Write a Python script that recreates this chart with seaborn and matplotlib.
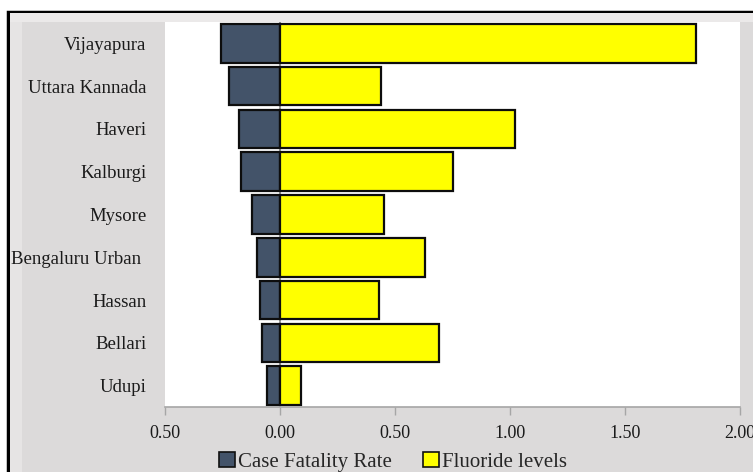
import matplotlib
matplotlib.use("Agg")
import matplotlib.pyplot as plt
import matplotlib.patches as mpatches
from matplotlib.ticker import FuncFormatter
import seaborn as sns
import pandas as pd

districts = ["Vijayapura", "Uttara Kannada", "Haveri", "Kalburgi", "Mysore",
             "Bengaluru Urban ", "Hassan", "Bellari", "Udupi"]
case_fatality_rate = [0.257, 0.22, 0.18, 0.17, 0.12, 0.10, 0.087, 0.078, 0.057]
fluoride_levels = [1.81, 0.44, 1.02, 0.75, 0.45, 0.63, 0.43, 0.69, 0.09]
x_ticks = [-0.5, 0.0, 0.5, 1.0, 1.5, 2.0]

df = pd.DataFrame({
    "district": districts,
    "cfr": [-v for v in case_fatality_rate],
    "fluoride": fluoride_levels,
})

sns.set_style("white")
plt.rcParams["font.family"] = ["Liberation Serif", "DejaVu Serif"]

W, H = 753, 472
fig = plt.figure(figsize=(W / 100, H / 100), dpi=100, facecolor="white")

# grey chart panel with black frame
panel_color = "#dcdada"
fig.patches.append(mpatches.Rectangle((8 / W, -0.05), 1.05, 1 - 12 / H + 0.05,
                                      transform=fig.transFigure, facecolor=panel_color,
                                      edgecolor="black", linewidth=2.5, zorder=-10))
# soft bevel highlights along the frame
fig.patches.append(mpatches.Rectangle((10 / W, 1 - 22 / H), 1.0, 9 / H,
                                      transform=fig.transFigure, facecolor="#ebe9e9",
                                      edgecolor="none", zorder=-9))
fig.patches.append(mpatches.Rectangle((10 / W, 0), 12 / W, 1 - 22 / H,
                                      transform=fig.transFigure, facecolor="#e6e4e4",
                                      edgecolor="none", zorder=-9))

ax = fig.add_axes([165 / W, 1 - 407 / H, (740 - 165) / W, (407 - 22) / H])
ax.set_facecolor("white")

sns.barplot(data=df, x="cfr", y="district", orient="h", color="#435369",
            edgecolor="#0d0d0d", linewidth=1.6, width=0.9, ax=ax, saturation=1)
sns.barplot(data=df, x="fluoride", y="district", orient="h", color="#ffff00",
            edgecolor="#0d0d0d", linewidth=1.6, width=0.9, ax=ax, saturation=1)

ax.axvline(0, color="#8c8c8c", linewidth=1.2, zorder=0.8)
ax.set_xlim(-0.5, 2.0)
ax.set_ylim(8.5, -0.5)
ax.set_xticks(x_ticks)
ax.xaxis.set_major_formatter(FuncFormatter(lambda v, p: f"{abs(v):.2f}"))
ax.set_xlabel("")
ax.set_ylabel("")

for s in ["top", "right", "left"]:
    ax.spines[s].set_visible(False)
ax.spines["bottom"].set_color("#a6a6a6")
ax.spines["bottom"].set_linewidth(1.2)
ax.tick_params(axis="x", bottom=True, length=6, width=1, color="#a6a6a6",
               labelsize=13, pad=7, labelcolor="#1a1a1a")
ax.tick_params(axis="y", left=False, labelsize=13.5, pad=10, labelcolor="#1a1a1a")

handles = [
    mpatches.Patch(facecolor="#435369", edgecolor="#111111", linewidth=1.2, label="Case Fatality Rate"),
    mpatches.Patch(facecolor="#ffff00", edgecolor="#111111", linewidth=1.2, label="Fluoride levels"),
]
fig.legend(handles=handles, loc="center", bbox_to_anchor=(393 / W, 1 - 462 / H), ncol=2,
           frameon=False, fontsize=15, handlelength=0.75, handleheight=0.75,
           handletextpad=0.15, columnspacing=1.5)

fig.savefig("out.png", dpi=100, facecolor="white")
